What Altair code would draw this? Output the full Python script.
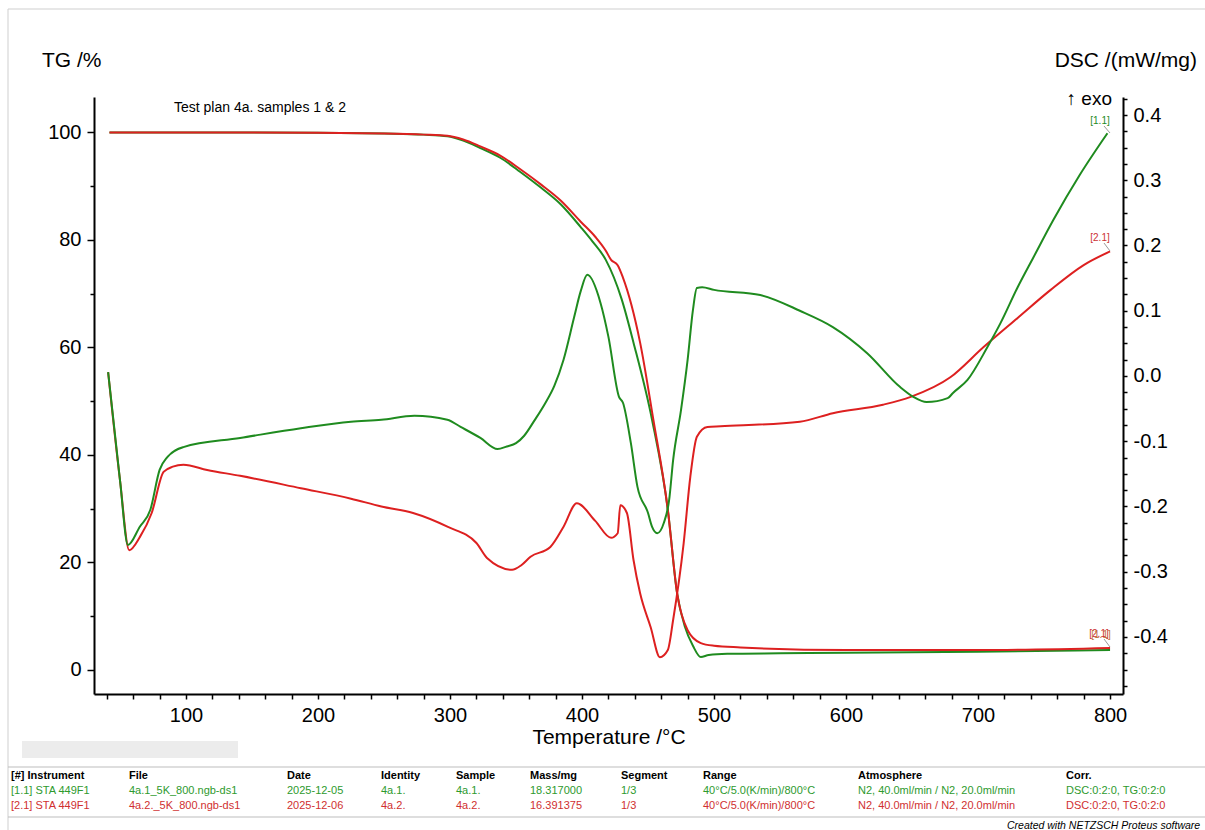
import altair as alt
import pandas as pd

# ---------------- data ----------------
TG1_T = [42, 100, 200, 250, 280, 298, 310, 323, 338, 353, 369, 384, 399, 408, 418, 430, 439, 453, 465, 472, 478, 484, 490, 496, 510, 550, 600, 700, 800]
TG1_V = [100, 100, 99.95, 99.8, 99.6, 99.3, 98.5, 97.1, 95.3, 92.7, 89.7, 86.6, 82.4, 79.7, 76.3, 69.0, 60.9, 46.6, 29.8, 14.3, 8.0, 4.5, 2.4, 2.8, 3.0, 3.1, 3.2, 3.4, 3.7]

TG2_T = [42, 100, 200, 250, 280, 298, 310, 323, 338, 353, 369, 384, 399, 410, 418, 422, 427, 431, 444, 454, 465, 472, 480, 490, 500, 520, 600, 700, 800]
TG2_V = [100, 100, 99.95, 99.8, 99.6, 99.4, 98.7, 97.4, 95.7, 93.2, 90.3, 87.3, 83.4, 80.6, 78.0, 76.3, 75.3, 73.0, 60.9, 46.6, 29.8, 14.3, 7.4, 5.0, 4.5, 4.2, 3.7, 3.7, 4.1]

DSC1_T = [41, 50, 56, 65, 73, 80, 86, 98, 141, 187, 225, 248, 273, 298, 308, 323, 336, 343, 350, 356, 364, 372, 379, 386, 394, 399, 404, 414, 420, 428, 431, 437, 442, 450, 453, 457, 462, 466, 469, 475, 480, 484, 487, 491, 500, 535, 565, 590, 616, 641, 651, 661, 677, 681, 692, 707, 717, 730, 742, 757, 777, 798]
DSC1_V = [0.006, -0.16, -0.259, -0.231, -0.205, -0.144, -0.124, -0.109, -0.095, -0.08, -0.07, -0.067, -0.061, -0.067, -0.078, -0.095, -0.112, -0.108, -0.103, -0.092, -0.068, -0.042, -0.015, 0.025, 0.09, 0.13, 0.155, 0.112, 0.06, -0.032, -0.041, -0.103, -0.17, -0.21, -0.231, -0.241, -0.225, -0.19, -0.129, -0.052, 0.025, 0.101, 0.135, 0.136, 0.132, 0.124, 0.1, 0.075, 0.035, -0.017, -0.032, -0.04, -0.034, -0.026, -0.006, 0.044, 0.081, 0.136, 0.182, 0.239, 0.308, 0.372]

DSC2_T = [41, 50, 57, 65, 74, 83, 90, 98, 116, 141, 187, 225, 248, 272, 298, 320, 328, 347, 354, 361, 376, 386, 396, 410, 422, 427, 429, 434, 439, 444, 452, 459, 465, 469, 477, 482, 487, 495, 505, 565, 590, 628, 649, 679, 704, 730, 755, 780, 800]
DSC2_V = [0.006, -0.16, -0.267, -0.247, -0.21, -0.147, -0.139, -0.136, -0.144, -0.153, -0.172, -0.188, -0.2, -0.21, -0.231, -0.256, -0.279, -0.297, -0.29, -0.277, -0.262, -0.231, -0.195, -0.222, -0.248, -0.241, -0.198, -0.21, -0.282, -0.333, -0.385, -0.431, -0.42, -0.374, -0.256, -0.155, -0.093, -0.078, -0.077, -0.07, -0.057, -0.044, -0.032, -0.002, 0.044, 0.089, 0.132, 0.17, 0.191]

TABLE_HEAD = ["[#] Instrument", "File", "Date", "Identity", "Sample", "Mass/mg", "Segment", "Range", "Atmosphere", "Corr."]
TABLE_ROW1 = ["[1.1] STA 449F1", "4a.1_5K_800.ngb-ds1", "2025-12-05", "4a.1.", "4a.1.", "18.317000", "1/3", "40°C/5.0(K/min)/800°C", "N2, 40.0ml/min / N2, 20.0ml/min", "DSC:0:2:0, TG:0:2:0"]
TABLE_ROW2 = ["[2.1] STA 449F1", "4a.2._5K_800.ngb-ds1", "2025-12-06", "4a.2.", "4a.2.", "16.391375", "1/3", "40°C/5.0(K/min)/800°C", "N2, 40.0ml/min / N2, 20.0ml/min", "DSC:0:2:0, TG:0:2:0"]

X_TICKS = list(range(40, 801, 20))
TG_TICKS = list(range(0, 101, 10))
DSC_TICKS = [round(-0.475 + 0.025 * i, 3) for i in range(37)]

# ---------------- layout ----------------
W, H = 1205, 830
L, T, R, B = 94, 97, 1123, 694
PW, PH = R - L, B - T
X_DOM = [30.3, 809.8]
TG_DOM = [-4.47, 106.6]
DSC_DOM = [-0.4874, 0.4276]

GREEN = "#1F8B1F"
RED = "#DD2020"
FONT = "Liberation Sans"


def px(x):
    return alt.value(x - L)


def py(y):
    return alt.value(y - T)


x_axis = alt.Axis(
    values=X_TICKS, labelExpr="datum.value % 100 === 0 ? datum.label : ''",
    format="d", title=None, grid=False, tickSize=5, tickWidth=1.5, tickColor="black",
    domainColor="black", domainWidth=2, labelFontSize=20, labelFont=FONT,
    labelColor="black", labelPadding=6, labelFlush=False, labelOverlap=False,
)
tg_axis = alt.Axis(
    orient="left", values=TG_TICKS, labelExpr="datum.value % 20 === 0 ? datum.label : ''",
    format="d", title=None, grid=False,
    tickSize={"condition": {"test": "datum.value % 20 === 0", "value": 7}, "value": 4},
    tickWidth=1.5, tickColor="black", domainColor="black", domainWidth=2,
    labelFontSize=20, labelFont=FONT, labelColor="black", labelPadding=6,
    labelOverlap=False, labelFlush=False,
)
dsc_axis = alt.Axis(
    orient="right", values=DSC_TICKS,
    labelExpr="abs(round(datum.value * 40)) % 4 === 0 ? replace(format(datum.value, '.1f'), '\u2212', '-') : ''",
    title=None, grid=False, tickSize=4, tickWidth=1.5, tickColor="black",
    domainColor="black", domainWidth=2, labelFontSize=20, labelFont=FONT,
    labelColor="black", labelPadding=6, labelOverlap=False, labelFlush=False,
)


def xenc():
    return alt.X("T:Q", scale=alt.Scale(domain=X_DOM, nice=False, zero=False), axis=x_axis)


def line(ts, vs, color, yaxis, ydom):
    df = pd.DataFrame({"T": ts, "v": vs})
    return alt.Chart(df).mark_line(color=color, strokeWidth=2, interpolate="monotone").encode(
        x=xenc(),
        y=alt.Y("v:Q", scale=alt.Scale(domain=ydom, nice=False, zero=False), axis=yaxis),
        order="T:Q",
    )


tg_layer = alt.layer(
    line(TG1_T, TG1_V, GREEN, tg_axis, TG_DOM),
    line(TG2_T, TG2_V, RED, tg_axis, TG_DOM),
)
dsc_layer = alt.layer(
    line(DSC2_T, DSC2_V, RED, dsc_axis, DSC_DOM),
    line(DSC1_T, DSC1_V, GREEN, dsc_axis, DSC_DOM),
)

one = pd.DataFrame({"a": [0]})


def text(s, x, y, size, align="left", color="black", weight="normal", style="normal", baseline="middle"):
    return alt.Chart(one).mark_text(
        text=s, fontSize=size, font=FONT, align=align, baseline=baseline, color=color,
        fontWeight=weight, fontStyle=style,
    ).encode(x=px(x), y=py(y))


def rule(x1, y1, x2, y2, color, width=1):
    return alt.Chart(one).mark_rule(color=color, strokeWidth=width).encode(
        x=px(x1), x2=px(x2), y=py(y1), y2=py(y2)
    )


annot = [
    text("TG /%", 42, 61, 21),
    text("DSC /(mW/mg)", 1197, 61, 21, align="right"),
    text("\u2191 exo", 1112, 99, 19, align="right"),
    text("Temperature /\u00b0C", 609, 738, 21, align="center"),
    text("Test plan 4a. samples 1 & 2", 174, 108, 14),
    text("[1.1]", 1100, 121, 10, align="center", color=GREEN),
    text("[2.1]", 1100, 238, 10, align="center", color="#CC3333"),
    text("[2.1]", 1099, 634, 10, align="center", color="#CC3333"),
    text("[1.1]", 1101, 635, 10, align="center", color="#C0703A"),
    rule(1104, 126, 1110, 133, "#999999"),
    rule(1104, 243, 1110, 251, "#999999"),
    rule(1104, 639, 1110, 647, "#999999"),
    # outer frame and table rules
    rule(8, 9, 1205, 9, "#cfcfcf"),
    rule(8, 9, 8, 830, "#cfcfcf"),
    rule(8, 767, 1205, 767, "#bdbdbd"),
    rule(8, 817, 1205, 817, "#bdbdbd"),
    alt.Chart(one).mark_rect(color="#ececec").encode(x=px(22), x2=px(238), y=py(741), y2=py(758)),
    text("Created with NETZSCH Proteus software", 1007, 826, 10.5, style="italic"),
]

COL_X = [11, 129, 287, 381, 456, 530, 621, 703, 858, 1066]
ROW_Y = [776, 791, 806]
for row, y, color, weight in [(TABLE_HEAD, ROW_Y[0], "black", "bold"),
                              (TABLE_ROW1, ROW_Y[1], "#2E9A2E", "normal"),
                              (TABLE_ROW2, ROW_Y[2], "#D03030", "normal")]:
    df = pd.DataFrame({"txt": row, "xp": [c - L for c in COL_X]})
    annot.append(
        alt.Chart(df).mark_text(fontSize=11, font=FONT, align="left", baseline="middle",
                                color=color, fontWeight=weight).encode(
            x=alt.X("xp:Q", scale=None), y=py(y), text="txt:N")
    )

main = alt.layer(tg_layer, dsc_layer).resolve_scale(y="independent")

chart = alt.layer(main, *annot).properties(
    width=PW, height=PH,
    padding={"left": L, "top": T, "right": W - R, "bottom": H - B},
    autosize=alt.AutoSizeParams(type="none"),
    background="white",
).configure_view(stroke=None)

chart.save("out.html", embed_options={"renderer": "svg", "actions": False})
